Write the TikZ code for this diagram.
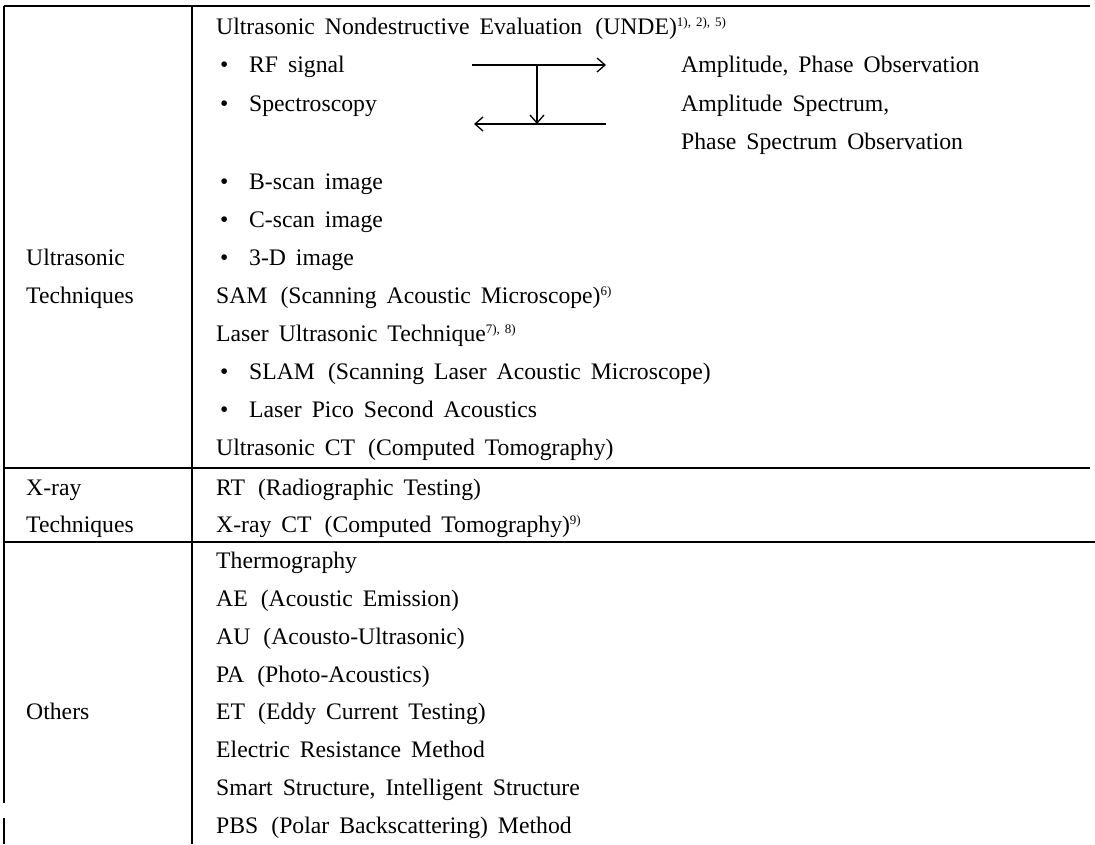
\documentclass[tikz,border=0pt]{standalone}
\usepackage{fontspec}
\setmainfont{Liberation Serif}
\usetikzlibrary{arrows.meta}
\newcommand{\opp}{\hspace{0.55em}(}
\newcommand{\refs}[1]{\raisebox{8.5pt}{\fontsize{13}{13}\selectfont #1}}
\newcommand{\rsp}{\hspace{5pt}}
\newcommand{\bul}{\makebox[30pt][l]{\hspace{1pt}\textbullet}}
\begin{document}
\begin{tikzpicture}[x=1pt,y=-1pt,
  txt/.style={anchor=west,inner sep=0pt,font=\fontsize{23.7}{26}\selectfont,execute at begin node={\spaceskip=0.42em\relax},text height=16pt,text depth=1pt},
  rule/.style={line width=1.4pt},
  arr/.style={line width=1.3pt,-{Straight Barb[length=8pt,width=14pt,line width=1.3pt]}}]
\useasboundingbox (0,0) rectangle (1095,844);
\fill[white] (0,0) rectangle (1095,844);
% table rules
\draw[rule] (4,6) -- (1090,6);
\draw[rule] (4,468) -- (1090,468);
\draw[rule] (4,542) -- (1095,542);
\draw[rule] (4,6) -- (4,803);
\draw[rule] (4,818) -- (4,844);
\draw[rule] (192,6) -- (192,844);
% left column
\node[txt] (lu1) at (26,258) {Ultrasonic};
\node[txt] (lu2) at (26,296) {Techniques};
\node[txt] (lx1) at (26,488) {X-ray};
\node[txt] (lx2) at (26,525) {Techniques};
\node[txt] (lo) at (26,712) {Others};
% right column
\node[txt] (unde) at (216,27) {Ultrasonic Nondestructive Evaluation\opp UNDE)\refs{1),\rsp 2),\rsp 5)}};
\node[txt] (rf) at (219,65) {\bul RF signal};
\node[txt] (sp) at (219,104) {\bul Spectroscopy};
\node[txt] (ap) at (681,65) {Amplitude, Phase Observation};
\node[txt] (as) at (681,104) {Amplitude Spectrum,};
\node[txt] (ps) at (681,142) {Phase Spectrum Observation};
\node[txt] (bs) at (219,182) {\bul B-scan image};
\node[txt] (cs) at (219,220) {\bul C-scan image};
\node[txt] (td) at (219,258) {\bul 3-D image};
\node[txt] (sam) at (216,296) {SAM\opp Scanning Acoustic Microscope)\refs{6)}};
\node[txt] (lut) at (216,334) {Laser Ultrasonic Technique\refs{7),\rsp 8)}};
\node[txt] (slam) at (219,372) {\bul SLAM\opp Scanning Laser Acoustic Microscope)};
\node[txt] (pico) at (219,410) {\bul Laser Pico Second Acoustics};
\node[txt] (uct) at (216,448) {Ultrasonic CT\opp Computed Tomography)};
\node[txt] (rt) at (216,488) {RT\opp Radiographic Testing)};
\node[txt] (xct) at (216,525) {X-ray CT\opp Computed Tomography)\refs{9)}};
\node[txt] (th) at (216,561) {Thermography};
\node[txt] (ae) at (216,599) {AE\opp Acoustic Emission)};
\node[txt] (au) at (216,637) {AU\opp Acousto-Ultrasonic)};
\node[txt] (pa) at (216,675) {PA\opp Photo-Acoustics)};
\node[txt] (et) at (216,712) {ET\opp Eddy Current Testing)};
\node[txt] (er) at (216,750) {Electric Resistance Method};
\node[txt] (ss) at (216,788) {Smart Structure, Intelligent Structure};
\node[txt] (pbs) at (216,826) {PBS\opp Polar Backscattering) Method};
% arrows
\coordinate (a1) at (472,65);
\coordinate (a2) at (606,65);
\coordinate (am) at (537,65);
\coordinate (b1) at (606,124);
\coordinate (b2) at (474,124);
\coordinate (bm) at (537,124);
\draw[arr] (a1) -- (a2);
\draw[arr] (am) -- (bm);
\draw[arr] (b1) -- (b2);
\end{tikzpicture}
\end{document}
